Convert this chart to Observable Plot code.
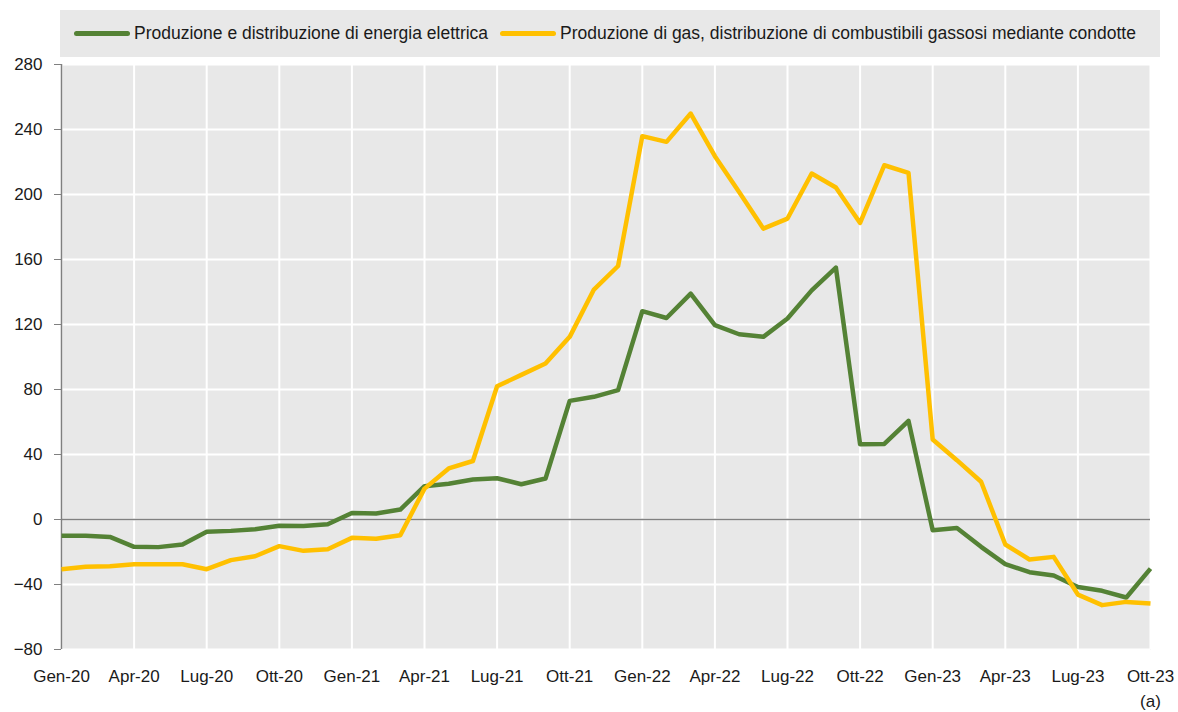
<!DOCTYPE html>
<html>
<head>
<meta charset="utf-8">
<script src="https://cdn.jsdelivr.net/npm/d3@7"></script>
<script src="https://cdn.jsdelivr.net/npm/@observablehq/plot@0.6"></script>
<style>
  html, body { margin: 0; padding: 0; background: #fff; }
  body { width: 1178px; height: 712px; overflow: hidden; position: relative; font-family: "Liberation Sans", Arial, sans-serif; }
  #legend { position: absolute; left: 60px; top: 10px; width: 1100px; height: 47px; background: #e8e8e8; font-size: 17.5px; color: #1a1a1a; z-index: 2; }
  .item { position: absolute; top: 0; height: 47px; display: flex; align-items: center; white-space: nowrap; }
  .sw { width: 56px; height: 5px; border-radius: 3px; margin-right: 4px; }
  #chart { position: absolute; left: 0; top: 44px; z-index: 1; }
</style>
</head>
<body>
<div id="legend"></div>
<div id="chart"></div>
<script>
const months = [
  "Gen-20","Feb-20","Mar-20","Apr-20","Mag-20","Giu-20","Lug-20","Ago-20","Set-20","Ott-20","Nov-20","Dic-20",
  "Gen-21","Feb-21","Mar-21","Apr-21","Mag-21","Giu-21","Lug-21","Ago-21","Set-21","Ott-21","Nov-21","Dic-21",
  "Gen-22","Feb-22","Mar-22","Apr-22","Mag-22","Giu-22","Lug-22","Ago-22","Set-22","Ott-22","Nov-22","Dic-22",
  "Gen-23","Feb-23","Mar-23","Apr-23","Mag-23","Giu-23","Lug-23","Ago-23","Set-23","Ott-23"
];
const seriesNames = [
  "Produzione e distribuzione di energia elettrica",
  "Produzione di gas, distribuzione di combustibili gassosi mediante condotte"
];
const energia = [
  -10, -10, -10.7, -16.8, -17, -15.4, -7.6, -7, -6, -3.9, -4, -2.9,
  4, 3.7, 6.1, 20.5, 22, 24.6, 25.4, 21.7, 25.2, 73, 75.5, 79.6,
  128.2, 124, 139, 119.6, 114, 112.4, 123.7, 141, 155, 46.3, 46.5, 60.7,
  -6.6, -5.2, -16.8, -27.5, -32.4, -34.5, -41.5, -43.9, -48, -30.2
];
const gas = [
  -30.6, -29.1, -28.7, -27.5, -27.5, -27.5, -30.6, -25, -22.6, -16.4, -19.3, -18.3,
  -11.3, -11.9, -9.7, 19, 31.4, 36, 82, 89, 96, 112.4, 141.5, 156,
  235.9, 232.4, 249.8, 223.6, 201.6, 179, 185.2, 212.9, 204.3, 182.5, 218, 213.3,
  49.2, 36.5, 23.2, -15.4, -24.6, -23, -46.2, -52.7, -50.7, -51.7
];
const yTicks = [-80, -40, 0, 40, 80, 120, 160, 200, 240, 280];
const xTickLabels = ["Gen-20","Apr-20","Lug-20","Ott-20","Gen-21","Apr-21","Lug-21","Ott-21","Gen-22","Apr-22","Lug-22","Ott-22","Gen-23","Apr-23","Lug-23","Ott-23"];
const colors = ["#548235", "#FFC000"];

const data = [];
months.forEach((m, i) => data.push({i, month: m, value: energia[i], serie: seriesNames[0]}));
months.forEach((m, i) => data.push({i, month: m, value: gas[i], serie: seriesNames[1]}));
const xTicks = xTickLabels.map(l => months.indexOf(l));
const fmtX = i => months[i] === "Ott-23" ? "Ott-23\n(a)" : months[i];

// Legend
const legend = document.getElementById("legend");
const itemLeft = [14, 440];
seriesNames.forEach((s, k) => {
  const it = document.createElement("div");
  it.className = "item";
  it.style.left = itemLeft[k] + "px";
  const sw = document.createElement("div");
  sw.className = "sw";
  sw.style.background = colors[k];
  const tx = document.createElement("span");
  tx.textContent = s;
  it.appendChild(sw); it.appendChild(tx);
  legend.appendChild(it);
});

const chart = Plot.plot({
  width: 1178,
  height: 668,
  marginTop: 20,
  marginLeft: 61,
  marginRight: 28,
  marginBottom: 63,
  style: {fontSize: "17px", fontFamily: "'Liberation Sans', Arial, sans-serif", color: "#1a1a1a", background: "transparent", overflow: "visible"},
  x: {type: "linear", domain: [0, months.length - 1]},
  y: {domain: [-80, 280]},
  color: {domain: seriesNames, range: colors},
  marks: [
    Plot.frame({fill: "#e8e8e8", stroke: null}),
    Plot.gridY(yTicks, {stroke: "white", strokeOpacity: 1, strokeWidth: 2}),
    Plot.gridX(xTicks, {stroke: "white", strokeOpacity: 1, strokeWidth: 2}),
    Plot.ruleY([0], {stroke: "#808080", strokeWidth: 1.5}),
    Plot.ruleX([0], {stroke: "#808080", strokeWidth: 1.5}),
    Plot.line(data, {x: "i", y: "value", z: "serie", stroke: "serie", strokeWidth: 4.5, strokeLinejoin: "round", strokeLinecap: "butt"}),
    Plot.axisY(yTicks, {tickSize: 7, tickPadding: 12, stroke: "#808080", label: null, fill: "#1a1a1a"}),
    Plot.axisX(xTicks, {tickSize: 0, tickPadding: 14, tickFormat: fmtX, label: null, lineHeight: 1.5, fill: "#1a1a1a"})
  ]
});
document.getElementById("chart").appendChild(chart);
</script>
</body>
</html>
